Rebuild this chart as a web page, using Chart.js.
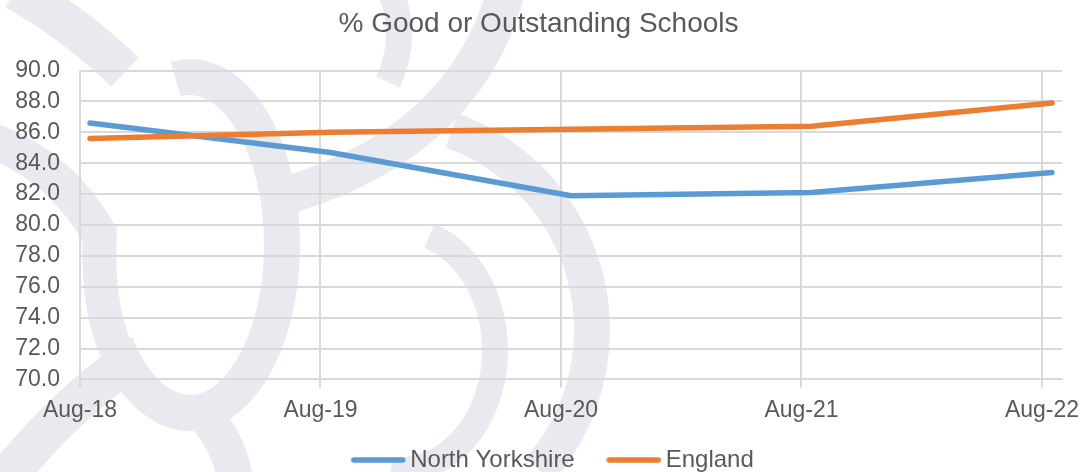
<!DOCTYPE html>
<html>
<head>
<meta charset="utf-8">
<script src="https://cdn.jsdelivr.net/npm/chart.js@4/dist/chart.umd.min.js"></script>
<style>
  html, body { margin: 0; padding: 0; background: #fff; }
  #wrap { width: 1092px; height: 472px; position: relative; }
</style>
</head>
<body>
<div id="wrap"><canvas id="chart" width="1092" height="472"></canvas></div>
<script>
// months since Aug-18; inspections plotted mid-month
const tickMonths = [0, 12, 24, 36, 48];
const tickLabels = ['Aug-18', 'Aug-19', 'Aug-20', 'Aug-21', 'Aug-22'];
const pointMonths = [0.5, 12.5, 24.5, 36.5, 48.5];
const northYorkshire = [86.6, 84.7, 81.9, 82.1, 83.4];
const england = [85.6, 86.0, 86.2, 86.4, 87.9];

const grey = '#595959';
const font = 'Arial, "Liberation Sans", sans-serif';
const blue = '#5B9BD5';
const orange = '#ED7D31';

// legend swatch: short round-capped line, with blank room on the left
function swatch(color) {
    const c = document.createElement('canvas');
    c.width = 100; c.height = 8;
    const g = c.getContext('2d');
    g.strokeStyle = color;
    g.lineWidth = 5.5;
    g.lineCap = 'round';
    g.beginPath(); g.moveTo(43, 4); g.lineTo(92, 4); g.stroke();
    return c;
}

// faint background watermark
const watermark = {
    id: 'watermark',
    beforeDraw(chart) {
        const c = chart.ctx;
        c.save();
        c.strokeStyle = '#e8eaef';
        c.lineCap = 'butt';
        const quad = (w, x0, y0, cx, cy, x1, y1) => {
            c.lineWidth = w;
            c.beginPath(); c.moveTo(x0, y0); c.quadraticCurveTo(cx, cy, x1, y1); c.stroke();
        };
        c.lineWidth = 36;
        c.beginPath(); c.ellipse(190, 245, 92, 168, 0, Math.PI * 1.45, Math.PI * 0.8); c.stroke();
        quad(40, 15, -10, 70, 20, 125, 72);
        quad(36, -10, 140, 60, 165, 100, 235);
        quad(34, 100, 225, 95, 320, 125, 365);
        quad(40, 130, 360, 60, 410, 5, 480);
        quad(36, 195, 405, 230, 440, 235, 480);
        quad(38, 270, 200, 460, 150, 505, -5);
        quad(26, 392, -5, 408, 40, 388, 82);
        c.lineWidth = 36;
        c.beginPath(); c.arc(380, 330, 212, -Math.PI * 0.39, Math.PI * 0.23); c.stroke();
        c.lineWidth = 26;
        c.beginPath(); c.ellipse(400, 350, 95, 120, 0, -Math.PI * 0.40, Math.PI * 0.53); c.stroke();
        c.restore();
    }
};

new Chart(document.getElementById('chart').getContext('2d'), {
    type: 'line',
    data: {
        datasets: [{
            label: 'North Yorkshire',
            data: pointMonths.map((m, i) => ({x: m, y: northYorkshire[i]})),
            borderColor: blue,
            backgroundColor: blue,
            borderWidth: 5.5,
            pointRadius: 0,
            pointStyle: swatch(blue),
            borderCapStyle: 'round',
            tension: 0,
            order: 1
        }, {
            label: 'England',
            data: pointMonths.map((m, i) => ({x: m, y: england[i]})),
            borderColor: orange,
            backgroundColor: orange,
            borderWidth: 5.5,
            pointRadius: 0,
            pointStyle: swatch(orange),
            borderCapStyle: 'round',
            tension: 0,
            order: 0
        }]
    },
    options: {
        responsive: false,
        animation: false,
        layout: { padding: { left: 15, right: 30, top: 1, bottom: -10 } },
        plugins: {
            title: {
                display: true,
                text: '% Good or Outstanding Schools',
                color: grey,
                font: { family: font, size: 28, weight: 'normal' },
                padding: { top: 6, bottom: 30 }
            },
            legend: {
                position: 'bottom',
                labels: {
                    color: grey,
                    font: { family: font, size: 24 },
                    usePointStyle: true,
                    pointStyleWidth: 75,
                    padding: 4,
                    sort: (a, b) => a.datasetIndex - b.datasetIndex
                }
            },
            tooltip: { enabled: false }
        },
        scales: {
            x: {
                type: 'linear',
                min: 0,
                max: 49,
                afterBuildTicks: axis => { axis.ticks = tickMonths.map(v => ({value: v})); },
                afterFit: axis => { axis.height += 11; },
                ticks: {
                    color: grey,
                    font: { family: font, size: 23 },
                    maxRotation: 0,
                    padding: 9,
                    callback: v => tickLabels[tickMonths.indexOf(v)]
                },
                grid: { color: '#d9d9d9', lineWidth: 2, tickLength: 8 },
                border: { color: '#d9d9d9', width: 2 }
            },
            y: {
                min: 70,
                max: 90,
                afterFit: axis => { axis.width = 65; },
                ticks: {
                    stepSize: 2,
                    autoSkip: false,
                    color: grey,
                    font: { family: font, size: 23 },
                    padding: 20,
                    callback: v => v.toFixed(1)
                },
                grid: { color: '#d9d9d9', lineWidth: 2, drawTicks: false },
                border: { display: false }
            }
        }
    },
    plugins: [watermark]
});
</script>
</body>
</html>
